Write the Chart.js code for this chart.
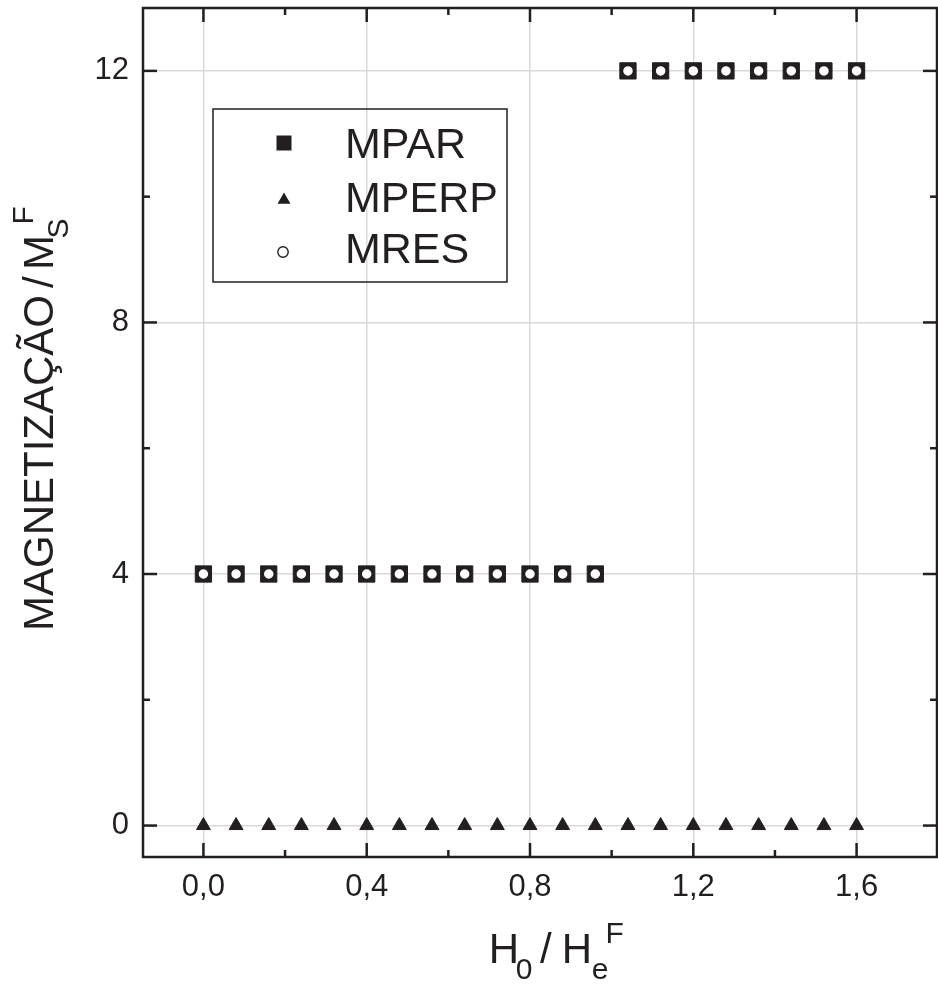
<!DOCTYPE html>
<html><head><meta charset="utf-8">
<script src="https://cdn.jsdelivr.net/npm/chart.js@4.4.0/dist/chart.umd.min.js"></script>
<style>html,body{margin:0;padding:0;background:#fff}#wrap{position:relative;width:938px;height:988px}</style>
</head><body><div id="wrap"><canvas id="c"></canvas></div>
<script>
const hValues = [0.00,0.08,0.16,0.24,0.32,0.40,0.48,0.56,0.64,0.72,0.80,0.88,0.96,1.04,1.12,1.20,1.28,1.36,1.44,1.52,1.60];
const mpar  = [4,4,4,4,4,4,4,4,4,4,4,4,4,12,12,12,12,12,12,12,12];
const mperp = [0,0,0,0,0,0,0,0,0,0,0,0,0,0,0,0,0,0,0,0,0];
const mres  = [4,4,4,4,4,4,4,4,4,4,4,4,4,12,12,12,12,12,12,12,12];
const seriesNames = ['MPAR','MPERP','MRES'];
const xTickValues = [0,0.4,0.8,1.2,1.6];
const xTickLabels = ['0,0','0,4','0,8','1,2','1,6'];
const xMinorTicks = [0.2,0.6,1.0,1.4];
const yTickValues = [0,4,8,12];
const yTickLabels = ['0','4','8','12'];
const yMinorTicks = [2,6,10];

const INK = '#231f20';
const FONT = '"Liberation Sans", Arial, Helvetica, sans-serif';
Chart.defaults.font.family = FONT;

function pts(ys){ return hValues.map((x,i)=>({x:x,y:ys[i]})); }
function noPad(s){ s.paddingTop=0; s.paddingBottom=0; s.paddingLeft=0; s.paddingRight=0; }

const decor = {
  id:'decor',
  afterDraw(chart){
    const ctx = chart.ctx, a = chart.chartArea;
    const xs = chart.scales.x, ys = chart.scales.y;
    ctx.save();
    ctx.strokeStyle = INK; ctx.lineWidth = 2.5; ctx.lineCap='butt';
    const tick = (p0,p1)=>{ctx.beginPath();ctx.moveTo(p0[0],p0[1]);ctx.lineTo(p1[0],p1[1]);ctx.stroke();};
    xTickValues.forEach(v=>{const p=xs.getPixelForValue(v);tick([p,a.bottom],[p,a.bottom-14]);tick([p,a.top],[p,a.top+14]);});
    xMinorTicks.forEach(v=>{const p=xs.getPixelForValue(v);tick([p,a.bottom],[p,a.bottom-7]);tick([p,a.top],[p,a.top+7]);});
    yTickValues.forEach(v=>{const p=ys.getPixelForValue(v);tick([a.left,p],[a.left+14,p]);tick([a.right,p],[a.right-14,p]);});
    yMinorTicks.forEach(v=>{const p=ys.getPixelForValue(v);tick([a.left,p],[a.left+7,p]);tick([a.right,p],[a.right-7,p]);});
    ctx.strokeRect(a.left,a.top,a.right-a.left,a.bottom-a.top);

    // legend
    ctx.lineWidth = 1.5;
    ctx.strokeRect(213,109,294,173);
    const lx = 284, rows=[143,200,252], base=[158,212,263];
    ctx.fillStyle = INK;
    ctx.fillRect(lx-7.5,rows[0]-7.5,15,15);
    const r=7.5; ctx.beginPath();
    ctx.moveTo(lx,rows[1]-r);ctx.lineTo(lx+r*0.866,rows[1]+r/2);ctx.lineTo(lx-r*0.866,rows[1]+r/2);ctx.closePath();ctx.fill();
    ctx.beginPath();ctx.arc(lx-1,rows[2],5.2,0,Math.PI*2);ctx.fillStyle='#fff';ctx.fill();ctx.lineWidth=1.4;ctx.strokeStyle=INK;ctx.stroke();
    ctx.fillStyle = INK; ctx.font = '43px '+FONT; ctx.textBaseline='alphabetic'; ctx.textAlign='left';
    seriesNames.forEach((n,i)=>ctx.fillText(n,345,base[i]));

    const put=(t,size,x,y)=>{ctx.font=size+'px '+FONT;ctx.fillText(t,x,y);};
    put('H',42,488.7,963); put('0',30,515.7,979); put('/',42,540,963);
    put('H',42,561.7,963); put('e',30,591.8,979); put('F',30,605.6,943);
    ctx.save(); ctx.rotate(-Math.PI/2);
    put('MAGNETIZAÇÃO',42,-631,53); put('/',42,-288,53); put('M',42,-270,53);
    put('S',30,-238.5,68); put('F',30,-224.4,33);
    ctx.restore();
    ctx.restore();
  }
};

new Chart(document.getElementById('c'),{
  type:'scatter',
  data:{datasets:[
    {label:seriesNames[0],data:pts(mpar),pointStyle:'rect',pointRadius:11.5,backgroundColor:INK,borderColor:INK,borderWidth:1,order:2},
    {label:seriesNames[1],data:pts(mperp),pointStyle:'triangle',pointRadius:8,backgroundColor:INK,borderColor:INK,borderWidth:1,order:1},
    {label:seriesNames[2],data:pts(mres),pointStyle:'circle',pointRadius:5.5,backgroundColor:'#fff',borderColor:INK,borderWidth:1.5,order:0}
  ]},
  options:{
    responsive:true, maintainAspectRatio:false, animation:false, events:[],
    layout:{autoPadding:false,padding:{top:8,right:1,left:0,bottom:0}},
    plugins:{legend:{display:false},tooltip:{enabled:false}},
    scales:{
      x:{type:'linear',min:-0.148,max:1.797,
        afterBuildTicks(s){s.ticks=xTickValues.map(v=>({value:v}));},
        afterFit(s){s.height=131; noPad(s);},
        ticks:{callback:(v)=>xTickLabels[xTickValues.indexOf(v)] ?? '',font:{size:31},color:INK,padding:12,maxRotation:0,autoSkip:false},
        grid:{color:'#d9d9d9',lineWidth:1.5,drawTicks:false},border:{display:false}},
      y:{type:'linear',min:-0.5,max:13,
        afterBuildTicks(s){s.ticks=yTickValues.map(v=>({value:v}));},
        afterFit(s){s.width=143; noPad(s);},
        ticks:{callback:(v)=>yTickLabels[yTickValues.indexOf(v)] ?? '',font:{size:31},color:INK,padding:14,autoSkip:false},
        grid:{color:'#d9d9d9',lineWidth:1.5,drawTicks:false},border:{display:false}}
    }
  },
  plugins:[decor]
});
</script></body></html>
